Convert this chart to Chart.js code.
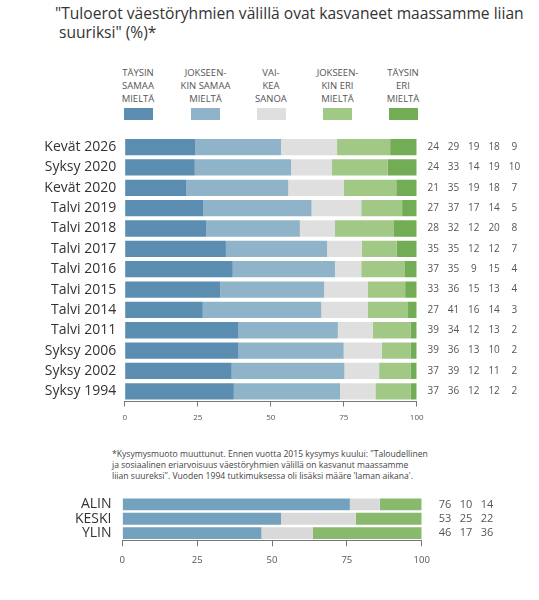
<!DOCTYPE html>
<html>
<head>
<meta charset="utf-8">
<script src="https://cdn.jsdelivr.net/npm/chart.js@4/dist/chart.umd.min.js"></script>
<style>
  html, body { margin:0; padding:0; background:#fff; }
  body { width:539px; height:600px; position:relative; overflow:hidden; font-family:'Open Sans', sans-serif; }
  #title { position:absolute; left:55px; top:4px; font-size:15.6px; line-height:19px; color:#333; white-space:nowrap; }
  .leg { position:absolute; top:66px; width:80px; margin-left:-40px; text-align:center; font-size:9.5px; line-height:13px; color:#555; }
  .sw { position:absolute; top:108px; width:29px; height:12px; margin-left:-14.5px; }
  #note { position:absolute; left:112px; top:449px; font-size:8.6px; line-height:11px; color:#444; white-space:nowrap; }
  #mainWrap { position:absolute; left:0; top:120px; width:539px; height:310px; }
  #subWrap { position:absolute; left:0; top:478px; width:539px; height:100px; }
</style>
</head>
<body>
<div id="title">"Tuloerot väestöryhmien välillä ovat kasvaneet maassamme liian<br>&nbsp;suuriksi" (%)*</div>
<div id="legend"></div>
<div id="mainWrap"><canvas id="main"></canvas></div>
<div id="note">*Kysymysmuoto muuttunut. Ennen vuotta 2015 kysymys kuului: "Taloudellinen<br>ja sosiaalinen eriarvoisuus väestöryhmien välillä on kasvanut maassamme<br>liian suureksi". Vuoden 1994 tutkimuksessa oli lisäksi määre 'laman aikana'.</div>
<div id="subWrap"><canvas id="sub"></canvas></div>
<script>
// ---- data ----
const categories = ['Kevät 2026','Syksy 2020','Kevät 2020','Talvi 2019','Talvi 2018','Talvi 2017','Talvi 2016','Talvi 2015','Talvi 2014','Talvi 2011','Syksy 2006','Syksy 2002','Syksy 1994'];
const taysinSamaa     = [24,24,21,27,28,35,37,33,27,39,39,37,37];
const jokseenkinSamaa = [29,33,35,37,32,35,35,36,41,34,36,39,36];
const vaikeaSanoa     = [19,14,19,17,12,12, 9,15,16,12,13,12,12];
const jokseenkinEri   = [18,19,18,14,20,12,15,13,14,13,10,11,12];
const taysinEri       = [ 9,10, 7, 5, 8, 7, 4, 4, 3, 2, 2, 2, 2];
const seriesNames = ['TÄYSIN\nSAMAA\nMIELTÄ','JOKSEEN-\nKIN SAMAA\nMIELTÄ','VAI-\nKEA\nSANOA','JOKSEEN-\nKIN ERI\nMIELTÄ','TÄYSIN\nERI\nMIELTÄ'];

const groupCategories = ['ALIN','KESKI','YLIN'];
const groupSamaa  = [76,53,46];
const groupVaikea = [10,25,17];
const groupEri    = [14,22,36];

const xTicks = [0,25,50,75,100];

// ---- styles ----
const mainColors = ['#5a8db0','#8fb3c8','#dfdfdf','#a2c886','#72ac55'];
const subColors  = ['#74a1bd','#d9d9d9','#88b96c'];
Chart.defaults.font.family = "'Open Sans', sans-serif";
Chart.defaults.animation = false;

// legend (HTML)
const legCenters = [138,205.5,271,337.5,403];
const legEl = document.getElementById('legend');
seriesNames.forEach((n,i)=>{
  const t = document.createElement('div');
  t.className='leg'; t.style.left=legCenters[i]+'px';
  t.innerHTML = n.split('\n').join('<br>');
  legEl.appendChild(t);
  const s = document.createElement('div');
  s.className='sw'; s.style.left=legCenters[i]+'px'; s.style.background=mainColors[i];
  legEl.appendChild(s);
});

function normalize(seriesList){
  const totals = seriesList[0].map((_,i)=>seriesList.reduce((a,s)=>a+s[i],0));
  return seriesList.map(s=>s.map((v,i)=>v*100/totals[i]));
}

function valuesPlugin(rawList, startOff, step, fontSize){
  return {
    id:'vals',
    afterDatasetsDraw(chart){
      const ctx = chart.ctx, ca = chart.chartArea, ys = chart.scales.y;
      ctx.save();
      ctx.font = fontSize+"px 'Open Sans', sans-serif";
      ctx.fillStyle = '#555';
      ctx.textAlign='center'; ctx.textBaseline='middle';
      rawList.forEach((s,d)=>{
        s.forEach((v,i)=>{
          ctx.fillText(String(v), ca.right + startOff + d*step, ys.getPixelForValue(i));
        });
      });
      ctx.restore();
    }
  };
}

function makeChart(id, cats, rawList, colors, o){
  const norm = normalize(rawList);
  return new Chart(document.getElementById(id), {
    type:'bar',
    data:{
      labels:cats,
      datasets: norm.map((d,i)=>({data:d, backgroundColor:colors[i], borderWidth:0,
        barPercentage:o.barPct, categoryPercentage:1}))
    },
    options:{
      indexAxis:'y',
      responsive:true, maintainAspectRatio:false,
      layout:{padding:{left:0, right:o.padRight, top:o.padTop, bottom:o.padBottom}},
      plugins:{legend:{display:false}, tooltip:{enabled:false}},
      scales:{
        x:{ stacked:true, min:0, max:100,
            afterBuildTicks(s){ s.ticks = xTicks.map(v=>({value:v})); },
            afterFit(s){ s.height = o.xHeight; },
            grid:{drawOnChartArea:false, drawTicks:true, tickLength:o.tickLen, color:'#777'},
            border:{display:true, color:'#777', width:1},
            ticks:{font:{size:o.tickFont}, color:'#555', padding:o.tickPad, maxRotation:0, autoSkip:false}
        },
        y:{ stacked:true,
            afterFit(s){ s.width = o.yWidth; },
            grid:{display:false, drawTicks:false},
            border:{display:false},
            ticks:{font:{size:o.catFont}, color:'#333', padding:o.catPad, autoSkip:false}
        }
      }
    },
    plugins:[valuesPlugin(rawList, o.valOff, o.valStep, o.valFont)]
  });
}

makeChart('main', categories,
  [taysinSamaa, jokseenkinSamaa, vaikeaSanoa, jokseenkinEri, taysinEri], mainColors,
  {barPct:0.8, padRight:122.3, padTop:10.5, padBottom:3.5, xHeight:25, tickLen:5, tickFont:8, tickPad:6,
   yWidth:124.7, catFont:14, catPad:8.5, valOff:16.5, valStep:20.3, valFont:10});

makeChart('sub', groupCategories,
  [groupSamaa, groupVaikea, groupEri], subColors,
  {barPct:0.83, padRight:117.3, padTop:7.7, padBottom:12.7, xHeight:25, tickLen:6, tickFont:9.5, tickPad:8,
   yWidth:122.3, catFont:14, catPad:10.8, valOff:23.3, valStep:21, valFont:11});
</script>
</body>
</html>
